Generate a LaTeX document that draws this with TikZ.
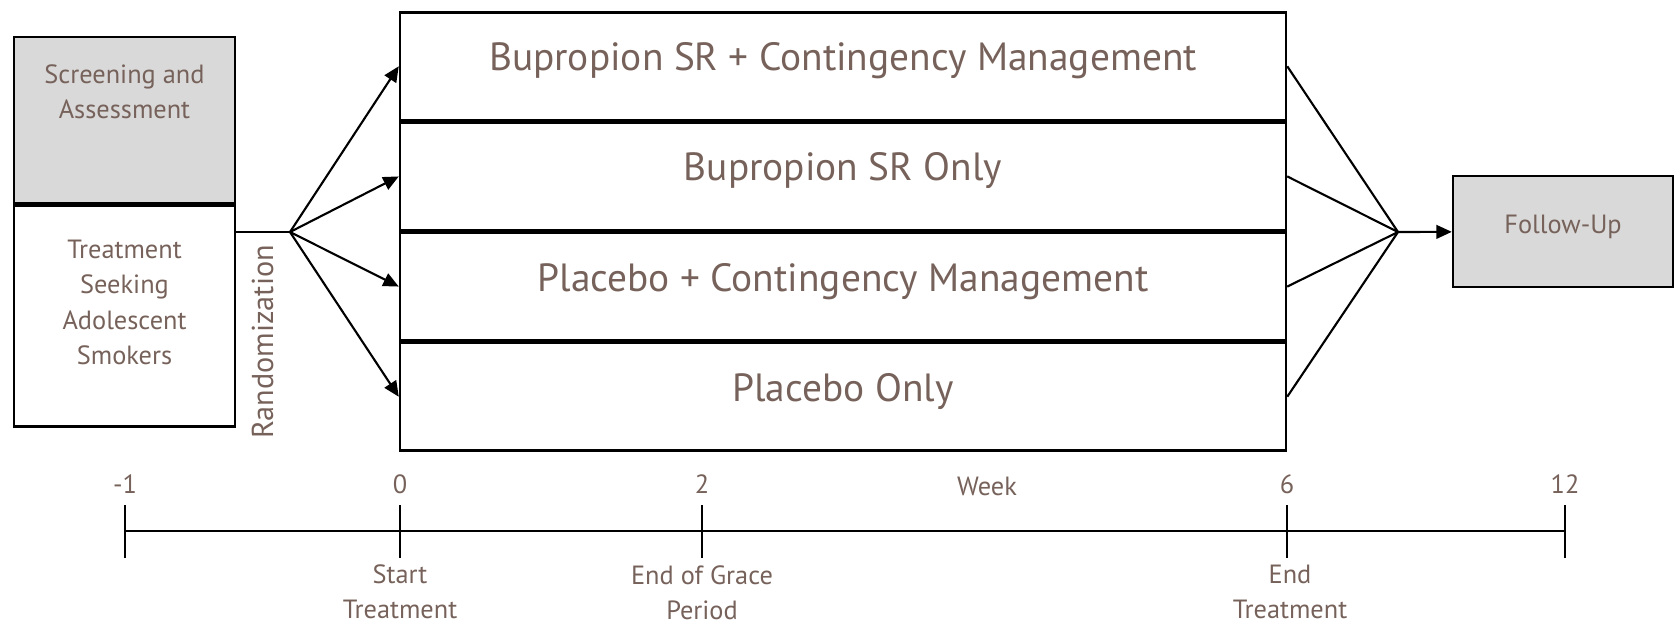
\documentclass[tikz,border=0pt]{standalone}
\usepackage{fontspec}
\setmainfont{PT Sans}
\usetikzlibrary{arrows.meta}
\usetikzlibrary{positioning}
\definecolor{txtbrown}{RGB}{118,98,90}
\definecolor{boxgray}{RGB}{217,217,217}
\tikzset{box/.style={draw, line width=0.7pt, inner sep=0pt, text=txtbrown, align=center, font=\fontsize{7.5}{10}\selectfont}}
\tikzset{arm/.style={box, minimum width=8.86cm, minimum height=1.077cm, font=\fontsize{11.2}{13}\selectfont, text height=8pt, text depth=5.4pt}}
\tikzset{lbl/.style={inner sep=0pt, text=txtbrown, align=center, font=\fontsize{7.5}{10}\selectfont}}
\tikzset{arr/.style={-{Triangle[length=4.4pt,width=3.9pt]}}}

\begin{document}
\begin{tikzpicture}[line width=0.6pt]
		\useasboundingbox (0,0) rectangle (16.75,6.25);
		% left column
		\node[box, fill=boxgray, minimum width=2.21cm, minimum height=1.66cm] (screen) at (1.245,5.05) {};
		\node[lbl, below=0.28cm of screen.north] (screentxt) {Screening and\\Assessment};
		\node[box, minimum width=2.21cm, minimum height=2.21cm, below=0pt of screen] (treat) {};
		\node[lbl, below=0.35cm of treat.north] (treattxt) {Treatment\\Seeking\\Adolescent\\Smokers};
		\node[lbl, rotate=90, anchor=base, font=\fontsize{8.6}{10}\selectfont] (rand) at (2.73,2.83) {Randomization};
		% arms
		\node[arm] (bupcm) at (8.43,5.5875) {Bupropion SR + Contingency Management};
		\node[arm, below=0pt of bupcm] (bup) {Bupropion SR Only};
		\node[arm, below=0pt of bup] (placm) {Placebo + Contingency Management};
		\node[arm, below=0pt of placm] (pla) {Placebo Only};
		\node[box, fill=boxgray, minimum width=2.20cm, minimum height=1.11cm, text height=6pt, text depth=5pt] (follow) at (15.63,3.935) {Follow-Up};
		\coordinate (split) at (2.90,3.93);
		\coordinate (merge) at (13.98,3.93);
		\draw (split -| treat.east) -- (split);
		\foreach \a in {bupcm,bup,placm,pla} {
			\draw[arr] (split) -- (\a.west);
			\draw (\a.east) -- (merge);
		}
		\draw[arr] (merge) -- (follow);
		% timeline
		\foreach \x/\wk [count=\i] in {1.25/-1,4.00/0,7.02/2,12.87/6,15.65/12} {
			\coordinate (tick\i) at (\x,0.94);
			\draw ([yshift=0.26cm]tick\i) -- ([yshift=-0.27cm]tick\i);
			\node[lbl, anchor=base] (wk\i) at (\x,1.32) {\wk};
		}
		\draw (tick1) -- (tick5);
		\node[lbl, anchor=base] (week) at (9.87,1.30) {Week};
		\node[lbl, anchor=north] (start) at (4.00,0.61) {Start\\Treatment};
		\node[lbl, anchor=north] (grace) at (7.02,0.60) {End of Grace\\Period};
		\node[lbl, anchor=north] (endtr) at (12.90,0.61) {End\\Treatment};
\end{tikzpicture}
\end{document}
